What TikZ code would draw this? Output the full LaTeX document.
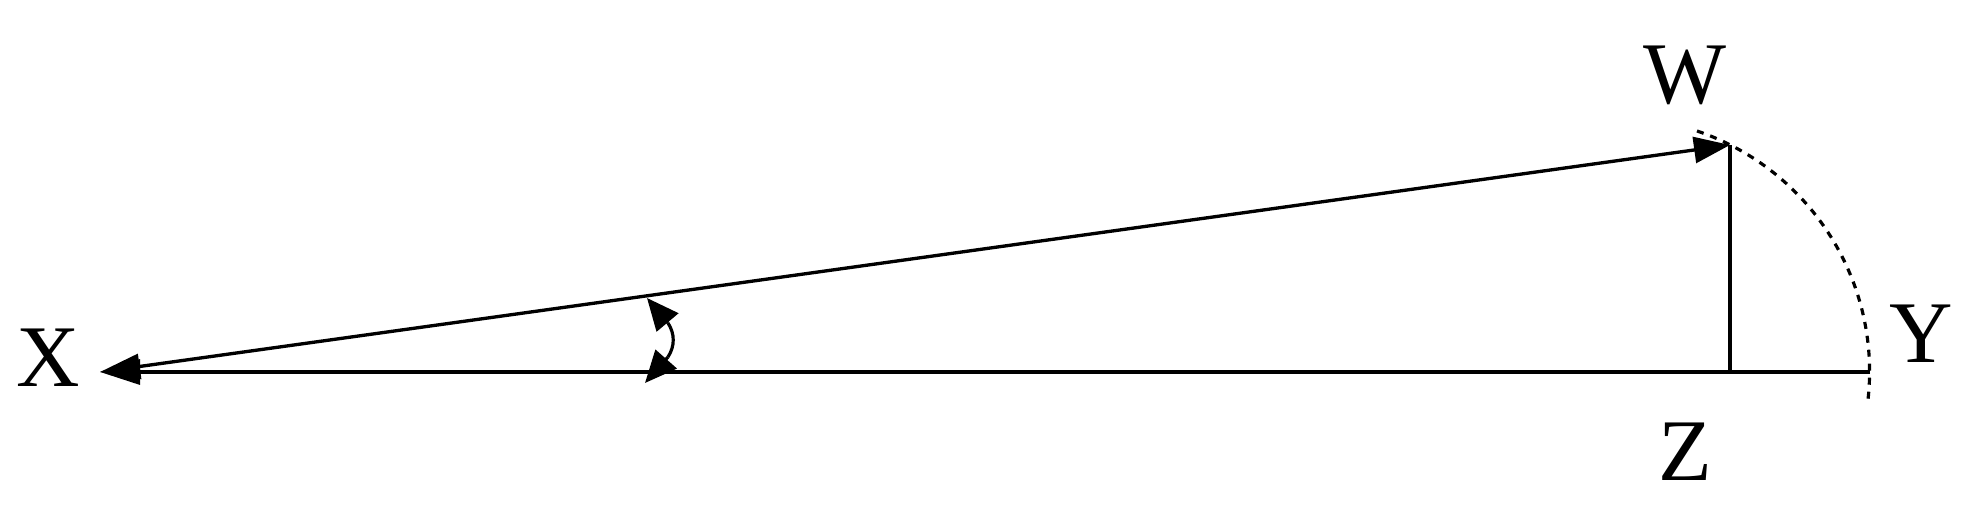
\documentclass[tikz,border=0pt]{standalone}
\usepackage{fontspec}
\setmainfont{Liberation Serif}
\usepackage{tikz}
\usetikzlibrary{arrows.meta}
\usetikzlibrary{positioning}
\tikzset{
    ray/.style = {line width=0.95pt},
    tipray/.style = {ray,-{Triangle[length=4mm,width=2.5mm]}},
    dotarc/.style = {line width=0.9pt,dash pattern=on 0.07cm off 0.07cm},
    anglemark/.style = {line width=0.9pt},
    anglehead/.style = {line width=0.9pt,-{Triangle[length=3.2mm,width=2.8mm]}},
    ptlabel/.style = {font=\fontsize{25}{30}\selectfont,inner sep=0}
}

\begin{document}
\begin{tikzpicture}[x=0.01cm,y=-0.01cm]
        \useasboundingbox (0,0) rectangle (1984,522);
        % Points
        \path (100,372) coordinate (X)
            to (1730,145) coordinate (W)
            to (1730,372) coordinate (Z)
            to (1870,372) coordinate (Y)
        ;
        % Labels
        \node[ptlabel] (lX) at (48,358) {X};
        \node[ptlabel] (lW) at (1685,75) {W};
        \node[ptlabel] (lZ) at (1685,452) {Z};
        \node[ptlabel] (lY) at (1921,334) {Y};
        % Sides
        \draw[tipray] (Y) to (X);
        \draw[tipray,{Triangle[length=4mm,width=2.5mm]}-{Triangle[length=3.6mm,width=2.6mm]}] (X) to (W);
        \draw[ray] (W) to (Z);
        % Swing of W
        \draw[dotarc] (1697,131) arc[start angle=-71.3,end angle=7.5,radius=254];
        % Angle
        \path (647,298) coordinate (a1)
            (668,323) coordinate (b1)
            (668,357) coordinate (b2)
            (645,383) coordinate (a2);
        \draw[anglemark] (b1) .. controls (675,334) and (675,346) .. (b2);
        \foreach \src/\dest in {b1/a1,b2/a2}
            \draw[anglehead] (\src) to (\dest);
    \end{tikzpicture}
\end{document}
